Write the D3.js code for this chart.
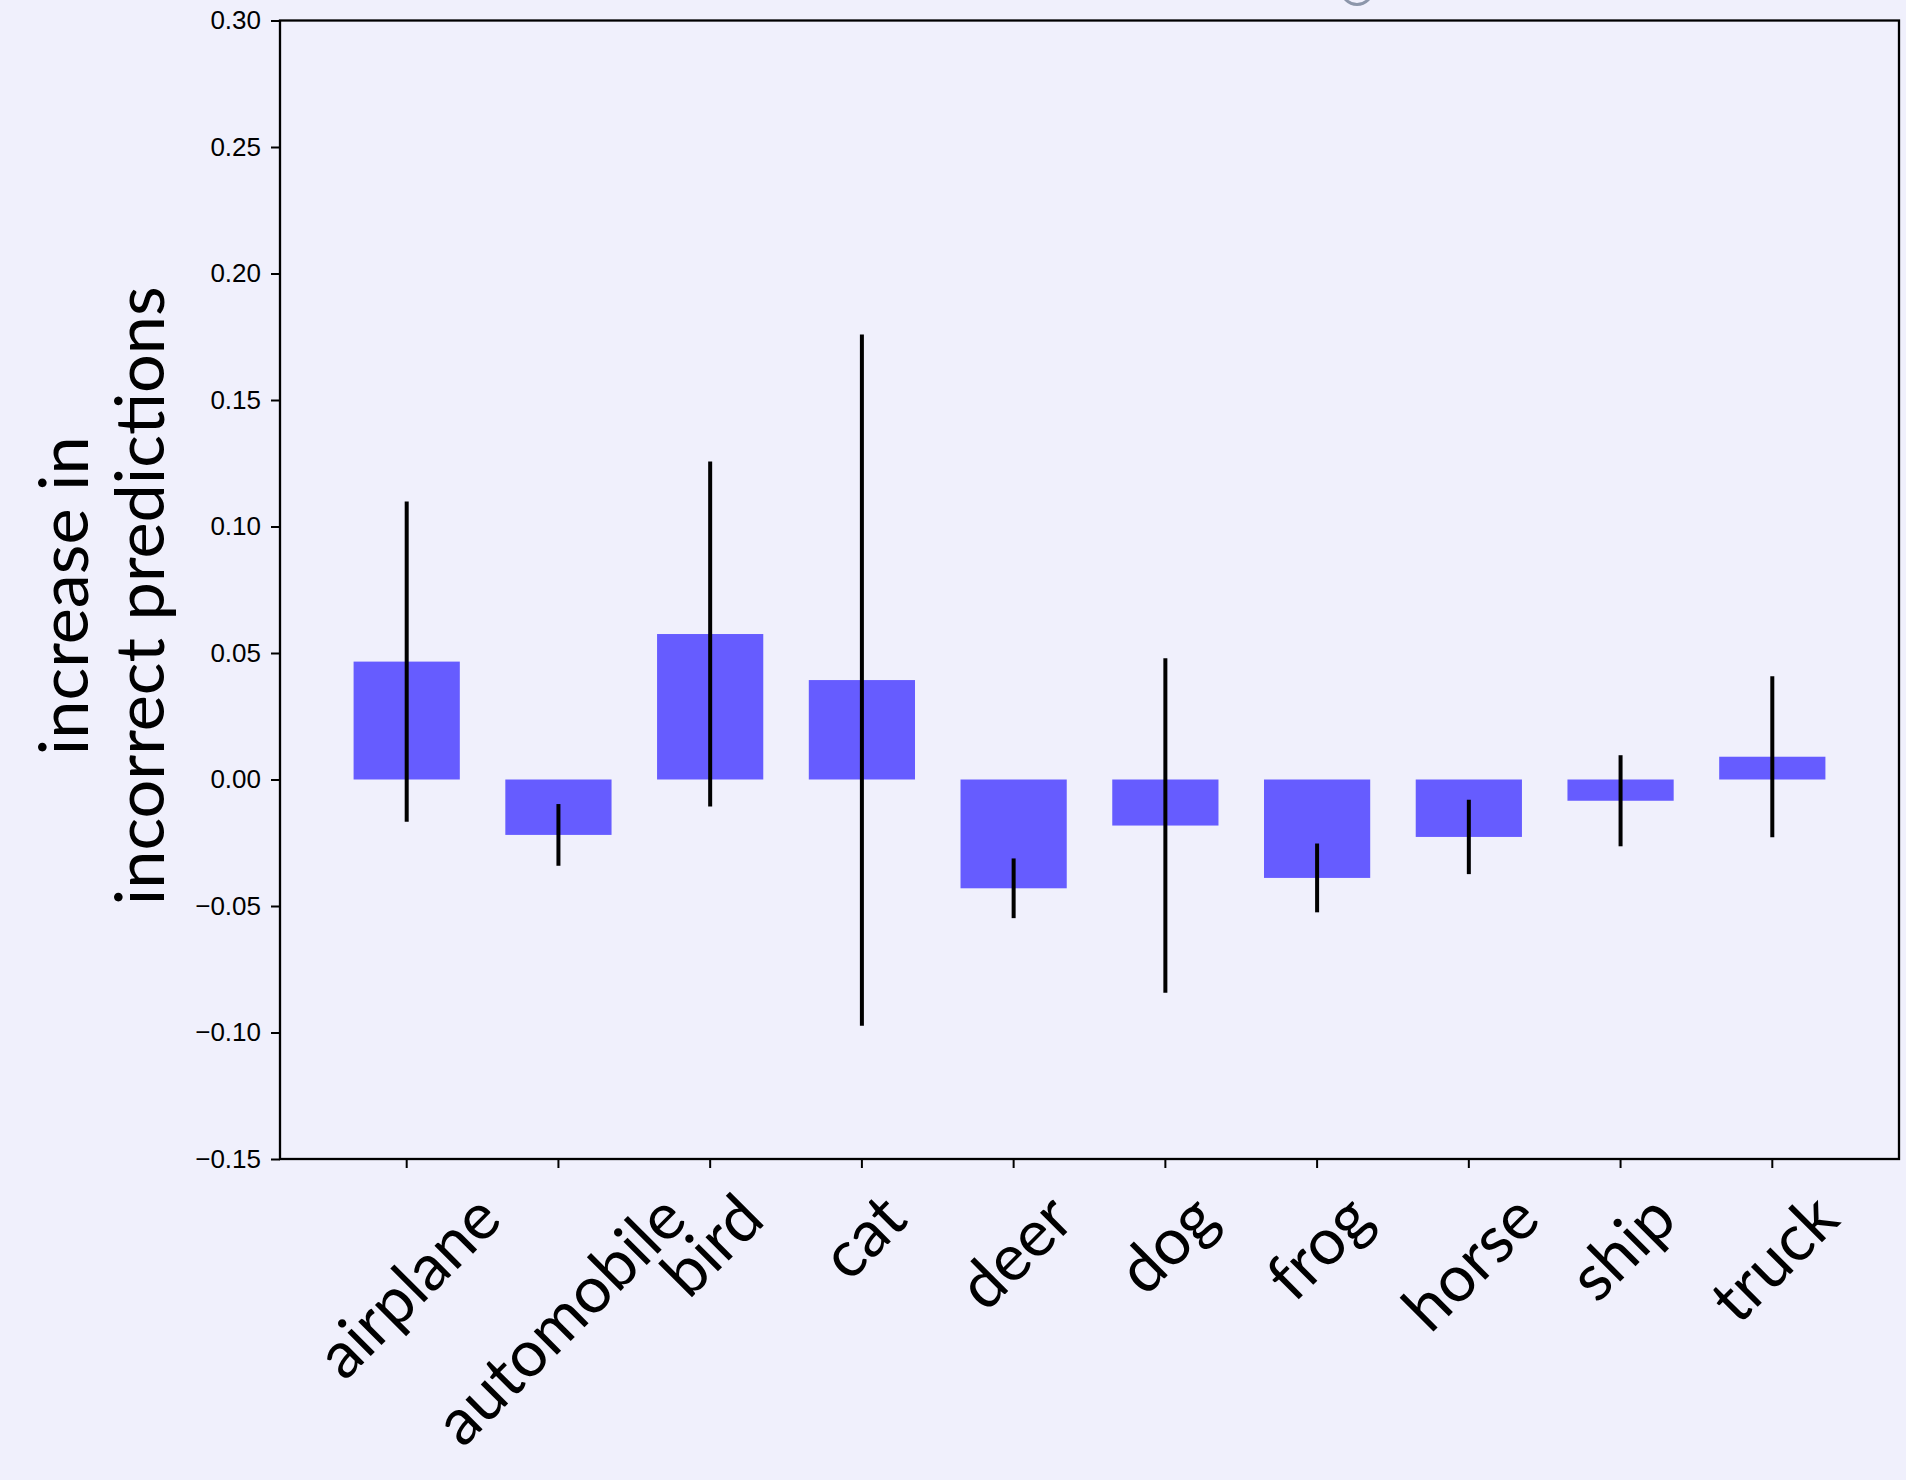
<!DOCTYPE html>
<html>
<head>
<meta charset="utf-8">
<script src="https://cdn.jsdelivr.net/npm/d3@7"></script>
<style>
  html, body { margin: 0; padding: 0; background: #f0f0fc; }
  svg { display: block; }
</style>
</head>
<body>
<svg id="chart" width="1906" height="1480"></svg>
<script>
// Per-class change in incorrect predictions (mean and spread)
const categories = ["airplane", "automobile", "bird", "cat", "deer", "dog", "frog", "horse", "ship", "truck"];
const means  = [0.0466, -0.0219, 0.0575, 0.0393, -0.0430, -0.0182, -0.0389, -0.0227, -0.0084, 0.0090];
const errors = [0.0633,  0.0122, 0.0682, 0.1366,  0.0118,  0.0661,  0.0136,  0.0147,  0.0180, 0.0318];
const yTicks = [-0.15, -0.10, -0.05, 0.00, 0.05, 0.10, 0.15, 0.20, 0.25, 0.30];
const yLabelLines = ["increase in", "incorrect predictions"];

const W = 1906, H = 1480;
const plot = { left: 280, right: 1899, top: 20.5, bottom: 1159 };
const labelFont = "Lato, 'Open Sans', sans-serif";
const tickFont = "'Liberation Sans', Arial, sans-serif";

const svg = d3.select("#chart");
svg.append("rect").attr("width", W).attr("height", H).attr("fill", "#f0f0fc");

// small grey ring peeking in at the top edge
svg.append("circle")
  .attr("cx", 1357).attr("cy", -11).attr("r", 15.5)
  .attr("fill", "none").attr("stroke", "#8c96aa").attr("stroke-width", 3);

const x = d3.scaleBand()
  .domain(categories)
  .range([plot.left, plot.right])
  .paddingInner(0.3)
  .paddingOuter(0.485);

const y = d3.scaleLinear()
  .domain([-0.15, 0.30])
  .range([plot.bottom, plot.top]);

const rows = categories.map((c, i) => ({ cat: c, mean: means[i], err: errors[i] }));

// bars
svg.append("g").selectAll("rect")
  .data(rows)
  .join("rect")
  .attr("x", d => x(d.cat))
  .attr("width", x.bandwidth())
  .attr("y", d => y(Math.max(0, d.mean)))
  .attr("height", d => Math.abs(y(d.mean) - y(0)))
  .attr("fill", "#665cff");

// error bars
svg.append("g").selectAll("line")
  .data(rows)
  .join("line")
  .attr("x1", d => x(d.cat) + x.bandwidth() / 2)
  .attr("x2", d => x(d.cat) + x.bandwidth() / 2)
  .attr("y1", d => y(d.mean + d.err))
  .attr("y2", d => y(d.mean - d.err))
  .attr("stroke", "#000")
  .attr("stroke-width", 4);

// y axis
const fmt = v => (v < 0 ? "\u2212" : "") + Math.abs(v).toFixed(2);
const yAxis = svg.append("g")
  .attr("transform", `translate(${plot.left},0)`)
  .call(d3.axisLeft(y).tickValues(yTicks).tickFormat(fmt).tickSize(9).tickPadding(10));
yAxis.select(".domain").remove();
yAxis.selectAll(".tick line").attr("stroke", "#000").attr("stroke-width", 2);
yAxis.selectAll(".tick text")
  .attr("fill", "#000")
  .style("font-family", tickFont)
  .style("font-size", "26px");

// x axis ticks
const xAxis = svg.append("g")
  .attr("transform", `translate(0,${plot.bottom})`)
  .call(d3.axisBottom(x).tickSize(9).tickFormat(""));
xAxis.select(".domain").remove();
xAxis.selectAll(".tick line").attr("stroke", "#000").attr("stroke-width", 2);

// frame
svg.append("rect")
  .attr("x", plot.left).attr("y", plot.top)
  .attr("width", plot.right - plot.left).attr("height", plot.bottom - plot.top)
  .attr("fill", "none").attr("stroke", "#000").attr("stroke-width", 2.3);

// y axis title, two centred lines reading upward
const yTitle = svg.append("g")
  .attr("transform", `translate(88,${(plot.top + plot.bottom) / 2 + 6}) rotate(-90)`);
const titleTexts = yTitle.selectAll("text")
  .data(yLabelLines)
  .join("text")
  .attr("x", 0)
  .attr("y", (d, i) => i * 76)
  .attr("text-anchor", "middle")
  .attr("fill", "#000")
  .style("font-family", labelFont)
  .style("font-size", "60px")
  .text(d => d);
// size the title so the long line spans its intended length
const longLen = titleTexts.nodes()[1].getComputedTextLength();
const labelSize = 60 * 619 / longLen;
titleTexts.style("font-size", labelSize + "px");

// rotated category labels, bounding boxes centred under each tick
const catSize = labelSize * 0.95;
const labelTop = 1177;
const xl = svg.append("g");
categories.forEach(c => {
  const cx = x(c) + x.bandwidth() / 2;
  const g = xl.append("g").attr("transform", `translate(${cx},0)`);
  const t = g.append("text")
    .attr("text-anchor", "middle")
    .attr("dominant-baseline", "central")
    .attr("transform", "rotate(-45)")
    .attr("fill", "#000")
    .style("font-family", labelFont)
    .style("font-size", catSize + "px")
    .text(c);
  const b = t.node().getBoundingClientRect();
  const svgTop = svg.node().getBoundingClientRect().top;
  const top = b.top - svgTop;
  g.attr("transform", `translate(${cx},${labelTop - top})`);
});
</script>
</body>
</html>
